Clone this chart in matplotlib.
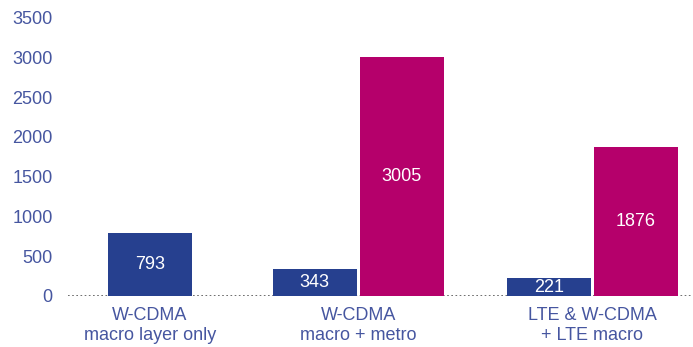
import numpy as np
import matplotlib.pyplot as plt

plt.rcParams['font.family'] = ['Liberation Sans', 'DejaVu Sans']

# Data
categories = ["W-CDMA\nmacro layer only", "W-CDMA\nmacro + metro", "LTE & W-CDMA\n+ LTE macro"]
blue_vals = [793, 343, 221]
magenta_vals = [None, 3005, 1876]
yticks = [0, 500, 1000, 1500, 2000, 2500, 3000, 3500]

# layout (x in bar-width units)
group_x = np.array([0.976, 3.455, 6.243])
half = 0.518
blue_c = "#26408f"
mag_c = "#b5006b"
txt_c = "#4656a0"
fs = 13

fig = plt.figure(figsize=(6.93, 3.47), dpi=100)
ax = fig.add_axes([68/693, 51/347, 625/693, 278.3/347])

for i, g in enumerate(group_x):
    if magenta_vals[i] is None:
        bx = [g]
    else:
        bx = [g - half, g + half]
    ax.bar(bx[0], blue_vals[i], width=1.0, color=blue_c)
    ax.text(bx[0], blue_vals[i] / 2, str(blue_vals[i]), color="white",
            ha="center", va="center", fontsize=fs)
    if magenta_vals[i] is not None:
        ax.bar(bx[1], magenta_vals[i], width=1.0, color=mag_c)
        ax.text(bx[1], magenta_vals[i] / 2, str(magenta_vals[i]), color="white",
                ha="center", va="center", fontsize=fs)

# dotted zero line
ax.axhline(0, color="#555555", linestyle=(0, (1, 1.5)), linewidth=1.2, zorder=0)

ax.set_xlim(0, 625/84)
ax.set_ylim(0, 3500)
ax.set_yticks(yticks)
ax.set_yticklabels([str(t) for t in yticks])
ax.set_xticks(group_x)
ax.set_xticklabels(categories, linespacing=1.2)
ax.tick_params(axis="y", length=0, pad=11, labelsize=fs, labelcolor=txt_c)
ax.tick_params(axis="x", length=0, pad=8, labelsize=fs, labelcolor=txt_c)
for s in ax.spines.values():
    s.set_visible(False)

fig.savefig("out.png", dpi=100)
